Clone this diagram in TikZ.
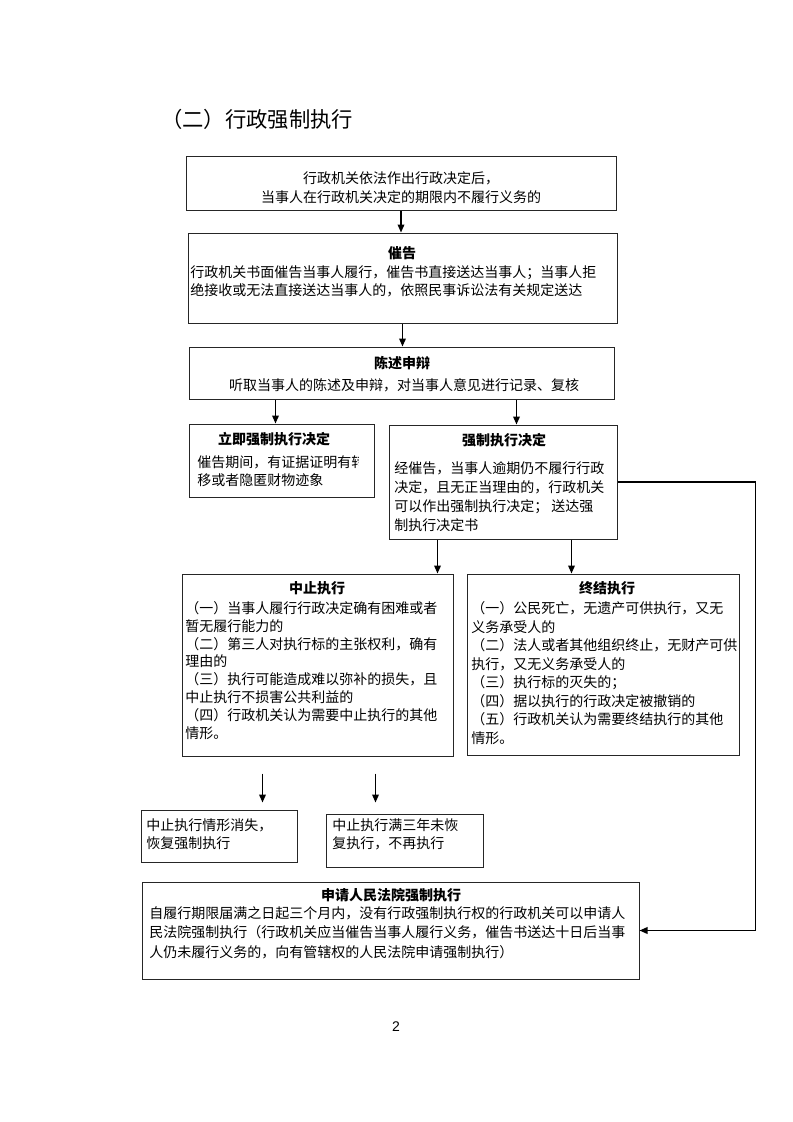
\documentclass[tikz,border=0pt]{standalone}
\usepackage{fontspec}
\setmainfont{Noto Sans CJK SC}
\newfontfamily\numfont{Liberation Sans}
\usetikzlibrary{calc,fit,arrows.meta}
\tikzset{
  box/.style={draw=black!85, line width=0.75pt, inner sep=0pt, fit={#1}},
  txt/.style={inner sep=0pt, align=left, anchor=west, font=\fontsize{10.5pt}{#1}\selectfont},
  txt/.default=14pt,
  ttl/.style={inner sep=0pt, font=\fontsize{10.5pt}{14pt}\selectfont\bfseries},
  arr/.style={line width=1pt, -{Triangle[length=6pt,width=5pt]}}
}

\begin{document}
\begin{tikzpicture}[x=0.75pt, y=-0.75pt]
			%%%%% PAGE %%%%%
			\useasboundingbox (0,0) rectangle (793,1122);
			
			\node[inner sep=0pt, anchor=west, font=\fontsize{16pt}{18pt}\selectfont] (title) at (161,119) {（二）行政强制执行};
			
			%%%%% BOXES %%%%%
			\node[box={(186,156) (616,210)}] (b1) {};
			\node[box={(188,233) (617,323)}] (b2) {};
			\node[box={(189,347) (614,399)}] (b3) {};
			\node[box={(189,424) (374,497)}] (b4) {};
			\node[box={(389,425) (617,539)}] (b5) {};
			\node[box={(182,574) (453,756)}] (b6) {};
			\node[box={(467,574) (739,755)}] (b7) {};
			\node[box={(141,810) (297,862)}] (b8) {};
			\node[box={(326,814) (483,867)}] (b9) {};
			\node[box={(142,882) (639,979)}] (b10) {};
			
			%%%%% TEXTS %%%%%
			\node[txt=14.25pt, anchor=center, align=center] (t1) at (401,187.5) {行政机关依法作出行政决定后，\\当事人在行政机关决定的期限内不履行义务的};
			
			\node[ttl] (h2) at (402,253) {催告};
			\node[txt=13.5pt] (t2) at (190,281) {行政机关书面催告当事人履行，催告书直接送达当事人；当事人拒\\绝接收或无法直接送达当事人的，依照民事诉讼法有关规定送达};
			
			\node[ttl] (h3) at (402,363) {陈述申辩};
			\node[txt, anchor=center] (t3) at (404,385) {听取当事人的陈述及申辩，对当事人意见进行记录、复核};
			
			\node[ttl] (h4) at (274,439) {立即强制执行决定};
			\begin{scope}
				\clip (b4.north west) rectangle ($(b4.south west)+(170,0)$);
				\node[txt=13.5pt] (t4) at (197,471) {催告期间，有证据证明有转\\移或者隐匿财物迹象};
			\end{scope}
			
			\node[ttl] (h5) at (504,440) {强制执行决定};
			\node[txt=14.25pt] (t5) at (394,496.5) {经催告，当事人逾期仍不履行行政\\决定，且无正当理由的，行政机关\\可以作出强制执行决定； 送达强\\制执行决定书};
			
			\node[ttl] (h6) at (317,588) {中止执行};
			\node[txt=13.4pt] (t6) at (185,670.5) {（一）当事人履行行政决定确有困难或者\\暂无履行能力的\\（二）第三人对执行标的主张权利，确有\\理由的\\（三）执行可能造成难以弥补的损失，且\\中止执行不损害公共利益的\\（四）行政机关认为需要中止执行的其他\\情形。};
			
			\node[ttl] (h7) at (607,588) {终结执行};
			\node[txt=13.9pt] (t7) at (471,673) {（一）公民死亡，无遗产可供执行，又无\\义务承受人的\\（二）法人或者其他组织终止，无财产可供\\执行，又无义务承受人的\\（三）执行标的灭失的；\\（四）据以执行的行政决定被撤销的\\（五）行政机关认为需要终结执行的其他\\情形。};
			
			\node[txt=13.5pt] (t8) at (146,834) {中止执行情形消失，\\恢复强制执行};
			\node[txt=13.5pt] (t9) at (332,834) {中止执行满三年未恢\\复执行，不再执行};
			
			\node[ttl] (h10) at (391,895) {申请人民法院强制执行};
			\node[txt=14.6pt] (t10) at (149,932.5) {自履行期限届满之日起三个月内，没有行政强制执行权的行政机关可以申请人\\民法院强制执行（行政机关应当催告当事人履行义务，催告书送达十日后当事\\人仍未履行义务的，向有管辖权的人民法院申请强制执行）};
			
			\node[inner sep=0pt, font=\numfont\fontsize{10.5pt}{12pt}\selectfont] (pg) at (396,1027) {2};
			
			%%%%% ARROWS %%%%%
			\draw[arr] (b1.south) -- (b1.south |- b2.north);
			\draw[arr] (b2.south) -- (b2.south |- b3.north);
			\draw[arr] ($(b3.south west)+(87,0)$) -- ($(b3.south west |- b4.north)+(87,0)$);
			\draw[arr] ($(b3.south west)+(328,0)$) -- ($(b3.south west |- b5.north)+(328,0)$);
			\draw[arr] ($(b5.south west)+(49,0)$) -- ($(b5.south west |- b6.north)+(49,0)$);
			\draw[arr] ($(b5.south west)+(183,0)$) -- ($(b5.south west |- b7.north)+(183,0)$);
			\draw[arr] ($(b6.south west)+(81,17)$) -- ($(b8.north west)+(122,-7)$);
			\draw[arr] ($(b6.south west)+(194,17)$) -- ($(b9.north west)+(50,-11)$);
			\draw[arr] (b5.east) -- ++(138,0) |- (b10.east);
			
			%%%%% END %%%%%
\end{tikzpicture}
\end{document}
